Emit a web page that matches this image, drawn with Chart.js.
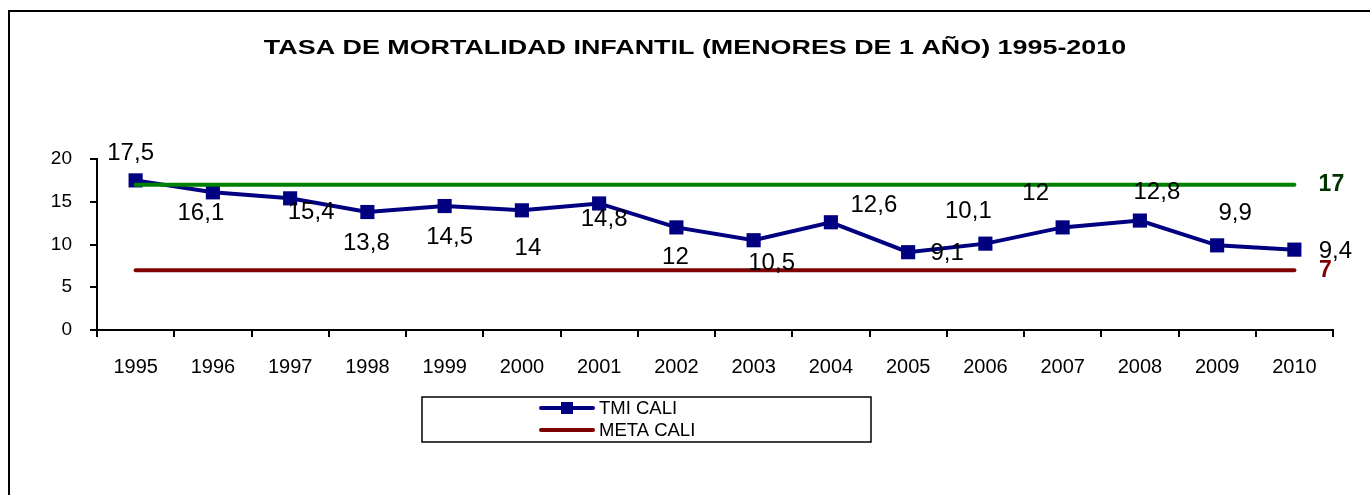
<!DOCTYPE html>
<html>
<head>
<meta charset="utf-8">
<script src="https://cdn.jsdelivr.net/npm/chart.js@4/dist/chart.umd.min.js"></script>
<style>
  html, body { margin: 0; padding: 0; background: #fff; }
  #wrap { width: 1370px; height: 495px; }
</style>
</head>
<body>
<div id="wrap"><canvas id="chart" width="1370" height="495"></canvas></div>
<script>
const years = ['1995','1996','1997','1998','1999','2000','2001','2002','2003','2004','2005','2006','2007','2008','2009','2010'];
const tmiCali = [17.5, 16.1, 15.4, 13.8, 14.5, 14, 14.8, 12, 10.5, 12.6, 9.1, 10.1, 12, 12.8, 9.9, 9.4];
const metaCali = years.map(() => 7);
const metaTop = years.map(() => 17);
const yTicks = [0, 5, 10, 15, 20];

// where each TMI value label sits, relative to its point (px)
const labelOffsets = [
  [-5, -27], [-12, 21], [21, 14], [-1, 31], [5, 31], [6, 38], [5, 16], [-1, 30],
  [18, 23], [43, -17], [39, 1], [-17, -32], [-27, -34], [17, -28], [18, -32], [41, 2]
];

const FONT = 'Liberation Sans, Arial, sans-serif';
const fmt = v => String(v).replace('.', ',');

const decor = {
  id: 'decor',
  beforeDraw(chart) {
    const ctx = chart.ctx;
    ctx.save();
    ctx.fillStyle = '#fff';
    ctx.fillRect(0, 0, chart.width, chart.height);
    ctx.strokeStyle = '#000';
    ctx.lineWidth = 2;
    ctx.strokeRect(9, 11, 2000, 2000);
    // title, stretched wide like the original
    ctx.fillStyle = '#000';
    ctx.font = 'bold 21px ' + FONT;
    ctx.textAlign = 'center';
    ctx.textBaseline = 'middle';
    ctx.translate(695, 48);
    ctx.scale(1.28, 1);
    ctx.fillText('TASA DE MORTALIDAD INFANTIL (MENORES DE 1 AÑO) 1995-2010', 0, 0);
    ctx.restore();
  },
  afterDatasetsDraw(chart) {
    const ctx = chart.ctx;
    ctx.save();
    ctx.textAlign = 'center';
    ctx.textBaseline = 'middle';
    // TMI labels
    ctx.font = '24px ' + FONT;
    ctx.fillStyle = '#000';
    chart.getDatasetMeta(0).data.forEach((pt, i) => {
      const o = labelOffsets[i];
      ctx.fillText(fmt(tmiCali[i]), pt.x + o[0], pt.y + o[1]);
    });
    // goal labels at the last point
    ctx.font = 'bold 23px ' + FONT;
    const last = years.length - 1;
    const g = chart.getDatasetMeta(2).data[last];
    ctx.fillStyle = '#003300';
    ctx.fillText(String(metaTop[last]), g.x + 37, g.y);
    const r = chart.getDatasetMeta(1).data[last];
    ctx.fillStyle = '#800000';
    ctx.fillText(String(metaCali[last]), r.x + 31, r.y + 1);

    // legend box
    ctx.strokeStyle = '#000';
    ctx.lineWidth = 1.5;
    ctx.strokeRect(422, 397, 449, 45);
    ctx.font = '18.5px ' + FONT;
    ctx.textAlign = 'left';
    [0, 1].forEach((di, row) => {
      const ds = chart.data.datasets[di];
      const y = 408 + row * 22;
      ctx.strokeStyle = ds.borderColor;
      ctx.lineWidth = 4;
      ctx.lineCap = 'round';
      ctx.beginPath();
      ctx.moveTo(541, y);
      ctx.lineTo(593, y);
      ctx.stroke();
      if (ds.pointRadius > 0) {
        ctx.fillStyle = ds.borderColor;
        ctx.fillRect(561, y - 6, 12, 12);
      }
      ctx.fillStyle = '#000';
      ctx.fillText(ds.label, 599, y + 1);
    });
    ctx.restore();
  }
};

new Chart(document.getElementById('chart'), {
  type: 'line',
  data: {
    labels: years,
    datasets: [
      {
        label: 'TMI CALI', data: tmiCali, borderColor: '#000080', backgroundColor: '#000080',
        borderWidth: 4, pointStyle: 'rect', pointRadius: 10, pointBorderWidth: 0,
        tension: 0, order: 1, clip: false
      },
      {
        label: 'META CALI', data: metaCali, borderColor: '#800000', borderWidth: 4,
        pointRadius: 0, borderCapStyle: 'round', order: 2, clip: false
      },
      {
        label: 'META', data: metaTop, borderColor: '#008000', borderWidth: 4,
        pointRadius: 0, borderCapStyle: 'round', order: 0, clip: false
      }
    ]
  },
  options: {
    responsive: false,
    animation: false,
    events: [],
    layout: { padding: { top: 159, right: 37, left: 0, bottom: 0 } },
    plugins: { legend: { display: false }, tooltip: { enabled: false }, title: { display: false } },
    scales: {
      x: {
        offset: true,
        grid: { offset: true, drawOnChartArea: false, color: '#000', lineWidth: 2, tickLength: 7 },
        border: { color: '#000', width: 2 },
        ticks: { color: '#000', font: { family: FONT, size: 20 }, padding: 18, maxRotation: 0, autoSkip: false },
        afterFit: s => { s.height = 165; }
      },
      y: {
        min: 0, max: 20,
        afterBuildTicks: s => { s.ticks = yTicks.map(v => ({ value: v })); },
        grid: { drawOnChartArea: false, color: '#000', lineWidth: 2, tickLength: 7 },
        border: { color: '#000', width: 2 },
        ticks: { color: '#000', font: { family: FONT, size: 19 }, padding: 18 },
        afterFit: s => { s.width = 97; }
      }
    }
  },
  plugins: [decor]
});
</script>
</body>
</html>
